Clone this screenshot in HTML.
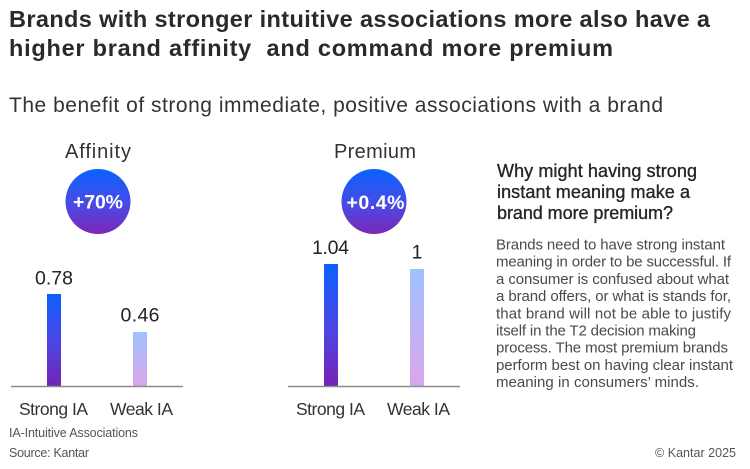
<!DOCTYPE html>
<html>
<head>
<meta charset="utf-8">
<style>
  html,body{margin:0;padding:0;background:#fff;}
  svg{display:block;}
  text{font-family:"Liberation Sans", Arial, sans-serif;}
</style>
</head>
<body>
<svg width="750" height="469" viewBox="0 0 750 469" xmlns="http://www.w3.org/2000/svg">
  <defs>
    <linearGradient id="circ" x1="0" y1="0" x2="0" y2="1">
      <stop offset="0" stop-color="#0a63ff"/>
      <stop offset="0.55" stop-color="#4a4ae6"/>
      <stop offset="1" stop-color="#7b27b7"/>
    </linearGradient>
    <linearGradient id="strong" x1="0" y1="0" x2="0" y2="1">
      <stop offset="0" stop-color="#0a60ff"/>
      <stop offset="0.5" stop-color="#4a48e6"/>
      <stop offset="1" stop-color="#7523b5"/>
    </linearGradient>
    <linearGradient id="weak" x1="0" y1="0" x2="0" y2="1">
      <stop offset="0" stop-color="#9fc2ff"/>
      <stop offset="0.5" stop-color="#bcb4f4"/>
      <stop offset="1" stop-color="#d9a6ea"/>
    </linearGradient>
  </defs>
  <rect width="750" height="469" fill="#ffffff"/>

  <!-- Title -->
  <text x="9" y="27" font-size="23.5" font-weight="bold" fill="#2a2a2a" textLength="701" lengthAdjust="spacing">Brands with stronger intuitive associations more also have a</text>
  <text x="9" y="56" font-size="23.5" font-weight="bold" fill="#2a2a2a" textLength="604" lengthAdjust="spacing" xml:space="preserve" style="white-space:pre">higher brand affinity  and command more premium</text>

  <!-- Subtitle -->
  <text x="9" y="112" font-size="21" fill="#333333" textLength="654" lengthAdjust="spacing">The benefit of strong immediate, positive associations with a brand</text>

  <!-- Affinity chart -->
  <text x="98" y="158" font-size="20" fill="#333333" text-anchor="middle" textLength="66" lengthAdjust="spacing">Affinity</text>
  <circle cx="98" cy="201.5" r="32.5" fill="url(#circ)"/>
  <text x="98" y="208.5" font-size="19.5" font-weight="bold" fill="#ffffff" text-anchor="middle" textLength="50" lengthAdjust="spacing">+70%</text>

  <text x="54" y="284.5" font-size="19.5" fill="#222222" text-anchor="middle" textLength="38" lengthAdjust="spacing">0.78</text>
  <text x="140" y="321.5" font-size="19.5" fill="#222222" text-anchor="middle" textLength="39" lengthAdjust="spacing">0.46</text>

  <rect x="47" y="294" width="14" height="92" fill="url(#strong)"/>
  <rect x="133" y="332" width="14" height="54" fill="url(#weak)"/>
  <line x1="11" y1="386.5" x2="183" y2="386.5" stroke="#8c8c8c" stroke-width="1.6"/>

  <text x="53.5" y="415" font-size="17.5" fill="#333333" text-anchor="middle" textLength="69" lengthAdjust="spacing">Strong IA</text>
  <text x="141.5" y="415" font-size="17.5" fill="#333333" text-anchor="middle" textLength="63" lengthAdjust="spacing">Weak IA</text>

  <!-- Premium chart -->
  <text x="375" y="158" font-size="20" fill="#333333" text-anchor="middle" textLength="82" lengthAdjust="spacing">Premium</text>
  <circle cx="374" cy="201.5" r="32.5" fill="url(#circ)"/>
  <text x="375.5" y="209" font-size="19.5" font-weight="bold" fill="#ffffff" text-anchor="middle" textLength="58" lengthAdjust="spacing">+0.4%</text>

  <text x="330.5" y="254" font-size="19.5" fill="#222222" text-anchor="middle" textLength="37" lengthAdjust="spacing">1.04</text>
  <text x="417" y="258.5" font-size="19.5" fill="#222222" text-anchor="middle">1</text>

  <rect x="324" y="264" width="14" height="122" fill="url(#strong)"/>
  <rect x="410" y="269" width="14" height="117" fill="url(#weak)"/>
  <line x1="288" y1="386.5" x2="460" y2="386.5" stroke="#8c8c8c" stroke-width="1.6"/>

  <text x="330.5" y="415" font-size="17.5" fill="#333333" text-anchor="middle" textLength="69" lengthAdjust="spacing">Strong IA</text>
  <text x="418.5" y="415" font-size="17.5" fill="#333333" text-anchor="middle" textLength="63" lengthAdjust="spacing">Weak IA</text>

  <!-- Right heading -->
  <g font-size="18" fill="#262626" stroke="#262626" stroke-width="0.35">
    <text x="497" y="177" textLength="200" lengthAdjust="spacing">Why might having strong</text>
    <text x="497" y="198" textLength="193" lengthAdjust="spacing">instant meaning make a</text>
    <text x="497" y="219" textLength="176" lengthAdjust="spacing">brand more premium?</text>
  </g>

  <!-- Right body -->
  <g font-size="15" fill="#4a4a4a">
    <text x="496" y="249.5" textLength="229" lengthAdjust="spacing">Brands need to have strong instant</text>
    <text x="496" y="266.7" textLength="235" lengthAdjust="spacing">meaning in order to be successful. If</text>
    <text x="496" y="283.9" textLength="233" lengthAdjust="spacing">a consumer is confused about what</text>
    <text x="496" y="301.1" textLength="235" lengthAdjust="spacing">a brand offers, or what is stands for,</text>
    <text x="496" y="318.3" textLength="235" lengthAdjust="spacing">that brand will not be able to justify</text>
    <text x="496" y="335.5" textLength="200" lengthAdjust="spacing">itself in the T2 decision making</text>
    <text x="496" y="352.7" textLength="232" lengthAdjust="spacing">process. The most premium brands</text>
    <text x="496" y="369.9" textLength="237" lengthAdjust="spacing">perform best on having clear instant</text>
    <text x="496" y="387.1" textLength="203" lengthAdjust="spacing">meaning in consumers’ minds.</text>
  </g>

  <!-- Footer -->
  <text x="9" y="437" font-size="12.5" fill="#555555" textLength="129" lengthAdjust="spacing">IA-Intuitive Associations</text>
  <text x="9" y="457" font-size="12.5" fill="#555555" textLength="80" lengthAdjust="spacing">Source: Kantar</text>
  <text x="655" y="457" font-size="12.5" fill="#555555" textLength="81" lengthAdjust="spacing">© Kantar 2025</text>
</svg>
</body>
</html>
